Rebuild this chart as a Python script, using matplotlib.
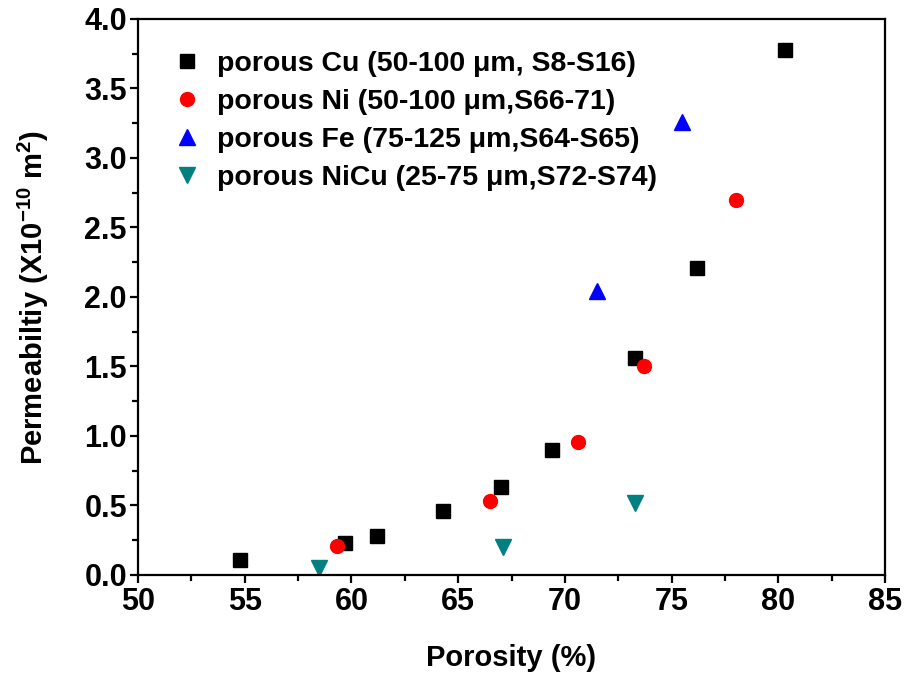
import matplotlib
matplotlib.use("Agg")
import matplotlib.pyplot as plt
from matplotlib.ticker import MultipleLocator

plt.rcParams['font.family'] = ['Liberation Sans', 'DejaVu Sans']
plt.rcParams['font.weight'] = 'bold'
plt.rcParams['mathtext.fontset'] = 'custom'
plt.rcParams['mathtext.rm'] = 'Liberation Sans:bold'
plt.rcParams['mathtext.bf'] = 'Liberation Sans:bold'

cu_x = [54.8, 59.7, 61.2, 64.3, 67.0, 69.4, 73.3, 76.2, 80.3]
cu_y = [0.11, 0.23, 0.28, 0.46, 0.63, 0.90, 1.56, 2.21, 3.78]
ni_x = [59.3, 66.5, 70.6, 73.7, 78.0]
ni_y = [0.21, 0.53, 0.96, 1.50, 2.70]
fe_x = [71.5, 75.5]
fe_y = [2.04, 3.26]
nicu_x = [58.5, 67.1, 73.3]
nicu_y = [0.05, 0.20, 0.52]

labels = ['porous Cu (50-100 \u03bcm, S8-S16)',
          'porous Ni (50-100 \u03bcm,S66-71)',
          'porous Fe (75-125 \u03bcm,S64-S65)',
          'porous NiCu (25-75 \u03bcm,S72-S74)']

fig = plt.figure(figsize=(9.05, 6.78), dpi=100)
ax = fig.add_axes([0.1525, 0.152, 0.8255, 0.820])

ax.plot(cu_x, cu_y, 's', color='black', ms=9.5, ls='none', label=labels[0])
ax.plot(ni_x, ni_y, 'o', color='red', ms=10, ls='none', label=labels[1])
ax.plot(fe_x, fe_y, '^', color='blue', ms=11, ls='none', label=labels[2])
ax.plot(nicu_x, nicu_y, 'v', color='#008080', ms=11, ls='none', label=labels[3])

ax.set_xlim(50, 85)
ax.set_ylim(0, 4.0)
ax.xaxis.set_major_locator(MultipleLocator(5))
ax.xaxis.set_minor_locator(MultipleLocator(2.5))
ax.yaxis.set_major_locator(MultipleLocator(0.5))
ax.yaxis.set_minor_locator(MultipleLocator(0.25))
ax.yaxis.set_major_formatter(matplotlib.ticker.FormatStrFormatter('%.1f'))

for s in ax.spines.values():
    s.set_linewidth(1.6)
ax.tick_params(which='major', direction='out', length=6, width=1.6, labelsize=22, pad=3)
ax.tick_params(which='minor', direction='out', length=4, width=1.6)
ax.tick_params(axis='y', which='major', pad=2)
for lab in ax.get_xticklabels() + ax.get_yticklabels():
    lab.set_fontweight('bold')

ax.set_xlabel('Porosity (%)', fontsize=21, fontweight='bold', labelpad=19)
ax.set_ylabel('Permeabiltiy (X10$^{-10}$ m$^{2}$)', fontsize=21, fontweight='bold', labelpad=24)

ax.legend(loc='upper left', bbox_to_anchor=(0.028, 0.963), frameon=False,
          handletextpad=0.45, labelspacing=0.42, borderaxespad=0.0,
          handlelength=1.2, prop={'weight': 'bold', 'size': 20.5})

fig.savefig('out.png', dpi=100)
